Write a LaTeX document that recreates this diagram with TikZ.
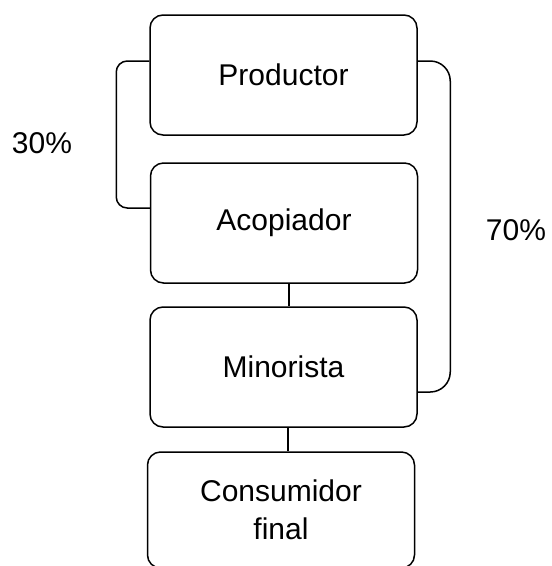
\documentclass[tikz,border=0pt]{standalone}
\usepackage{fontspec}
\setmainfont{Liberation Sans}
\begin{document}
\begin{tikzpicture}[x=1pt,y=-1pt,
  stage/.style={draw, line width=1.5pt, rounded corners=13pt,
    minimum width=267pt, minimum height=120pt, inner sep=0pt,
    align=center, font=\fontsize{30}{38}\selectfont},
  share/.style={inner sep=0pt, font=\fontsize{30}{36}\selectfont},
  link/.style={line width=1.5pt}]
\useasboundingbox (0,0) rectangle (552,566);

% chain of stages
\node[stage] (prod) at (283.5,75)  {Productor};
\node[stage] (acop) at (284,223)   {Acopiador};
\node[stage] (mino) at (283.5,367) {Minorista};
\node[stage, minimum height=116pt] (cons) at (281,510) {Consumidor\\final};

% share labels
\node[share] (p30) at (42,143)  {30\%};
\node[share] (p70) at (516,230) {70\%};

% direct links between consecutive stages
\draw[link] ([xshift=5pt]acop.south) -- ([xshift=5pt]acop.south |- mino.north);
\draw[link] ([xshift=4.5pt]mino.south) -- ([xshift=4.5pt]mino.south |- cons.north);

% side channels
\draw[link, rounded corners=11pt]
  ([yshift=14pt]prod.west) -- ++(-33,0) |- ([yshift=15pt]acop.west);
\draw[link, rounded corners=20pt]
  ([yshift=14pt]prod.east) -- ++(32.5,0) |- ([yshift=-25pt]mino.east);
\end{tikzpicture}
\end{document}
